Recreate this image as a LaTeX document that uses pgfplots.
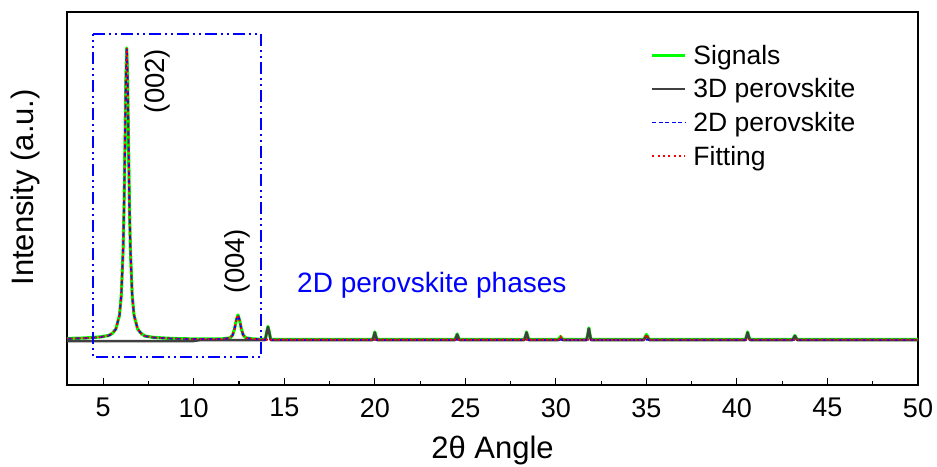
\documentclass[border=0pt]{standalone}
\usepackage{pgfplots}
\pgfplotsset{compat=1.18}
\usepackage{pgfplotstable}
\usepackage{fontspec}
\setmainfont{Liberation Sans}
\definecolor{sgreen}{RGB}{0,255,0}
\definecolor{dgray}{RGB}{64,64,64}
\definecolor{pblue}{RGB}{0,0,255}
\definecolor{pred}{RGB}{255,0,0}

\pgfplotstableread{
x     sig   dthree  dtwo  fit
3.00  2.5   0     2.3   2.4
4.00  3.0   0     2.8   2.9
4.80  4.0   0     3.8   3.9
5.30  5.5   0     5.4   5.5
5.50  7.5   0     7.4   7.5
5.70  12    0     12    12
5.90  26    0     26    26
6.00  46    0     46    46
6.10  92    0     92    92
6.15  134   0     134   134
6.20  194   0     194   194
6.25  261   0     261   261
6.30  293   0     293   293
6.35  261   0     261   261
6.40  194   0     194   194
6.45  134   0     134   134
6.50  92    0     92    92
6.60  46    0     46    46
6.70  26    0     26    26
6.90  12    0     12    12
7.10  7.5   0     7.4   7.5
7.30  5.0   0     4.9   5.0
7.80  3.5   0     3.4   3.5
8.80  2.5   0     2.4   2.5
10.00 2.0   0     2.0   2.0
10.40 2.0   1.0   2.0   2.0
11.50 2.0   1.0   2.0   2.0
12.00 3.0   1.0   3.0   3.0
12.15 6     1.0   6     6
12.25 12    1.0   12    12
12.35 21    1.0   21    21
12.44 26    1.0   26    26
12.53 21    1.0   21    21
12.63 12    1.0   12    12
12.73 6     1.0   6     6
12.90 3     1.0   3     3
13.30 2     1.0   2     2
13.95 1.6   1.0   1.3   1.4
14.03 9     8.5   1.3   1.4
14.10 14.5  14    1.3   1.4
14.17 9     8.5   1.3   1.4
14.25 1.6   1.0   1.3   1.4
19.88 1.6   1.0   1.3   1.4
19.95 5.5   5.0   1.3   1.4
20.00 9     8.5   1.3   1.4
20.05 5.5   5.0   1.3   1.4
20.12 1.6   1.0   1.3   1.4
24.43 1.6   1.0   1.3   1.4
24.50 4.5   4.0   1.3   1.4
24.55 7     6.5   1.3   1.4
24.60 4.5   4.0   1.3   1.4
24.67 1.6   1.0   1.3   1.4
28.26 1.6   1.0   1.3   1.4
28.33 5.5   5.0   1.3   1.4
28.38 9     8.5   1.3   1.4
28.43 5.5   5.0   1.3   1.4
28.50 1.6   1.0   1.3   1.4
30.14 1.6   1.0   1.3   1.4
30.21 3.2   2.0   1.3   3.0
30.26 4.5   2.5   1.3   4.3
30.31 3.2   2.0   1.3   3.0
30.38 1.6   1.0   1.3   1.4
31.70 1.6   1.0   1.3   1.4
31.77 7.5   7.0   1.3   1.4
31.82 13    12.5  1.3   1.4
31.87 7.5   7.0   1.3   1.4
31.94 1.6   1.0   1.3   1.4
34.86 1.6   1.0   1.3   1.4
34.94 4.5   3.5   1.3   4.2
35.00 6.5   5.0   1.3   6.2
35.07 4.5   3.5   1.3   4.2
35.15 1.6   1.0   1.3   1.4
40.47 1.6   1.0   1.3   1.4
40.54 5.5   5.0   1.3   1.4
40.59 9     8.5   1.3   1.4
40.64 5.5   5.0   1.3   1.4
40.71 1.6   1.0   1.3   1.4
43.08 1.6   1.0   1.3   1.4
43.15 3.8   3.5   1.3   1.4
43.20 5.5   5.0   1.3   1.4
43.25 3.8   3.5   1.3   1.4
43.32 1.6   1.0   1.3   1.4
50.00 1.6   1.0   1.3   1.4
}\xrd

\begin{document}
\begin{tikzpicture}
\useasboundingbox (-67pt,-81pt) rectangle (870pt,385pt);
\begin{axis}[
  scale only axis,
  width=851pt, height=373pt,
  xmin=3, xmax=50,
  ymin=-44, ymax=329,
  xtick={5,10,...,50},
  minor x tick num=1,
  ytick=\empty,
  tick align=inside,
  xtick pos=bottom,
  major tick length=7pt,
  minor tick length=4pt,
  every tick/.style={black, line width=1.1pt},
  axis line style={black, line width=1.3pt},
  /pgf/number format/assume math mode=true,
  xticklabel style={font=\fontsize{27}{32}\selectfont, inner sep=0pt, anchor=north, yshift=-13pt},
  xlabel={2θ Angle},
  ylabel={Intensity (a.u.)},
  label style={font=\fontsize{31}{36}\selectfont},
  xlabel style={at={(axis description cs:0.5,-0.175)}, anchor=center},
  ylabel style={at={(axis description cs:-0.049,0.53)}, anchor=center},
  legend style={draw=none, fill=none, at={(0.686,0.93)}, anchor=north west,
    inner sep=0pt, font=\fontsize{26.5}{30}\selectfont, nodes={inner sep=6.5pt}},
  legend cell align=left,
  legend image code/.code={\draw[#1] (0pt,0pt) -- (33pt,0pt);},
]
\addlegendimage{color=sgreen, line width=3pt}
\addlegendentry{Signals}
\addlegendimage{color=dgray, line width=2.2pt}
\addlegendentry{3D perovskite}
\addlegendimage{color=pblue, line width=1.6pt, dash pattern=on 4pt off 2.5pt}
\addlegendentry{2D perovskite}
\addlegendimage{color=pred, line width=2pt, dash pattern=on 2pt off 3.3pt}
\addlegendentry{Fitting}
\addplot[color=sgreen, line width=3.2pt, line join=round, forget plot] table[x=x, y=sig] {\xrd};
\addplot[color=dgray, line width=2.5pt, line join=round, forget plot] table[x=x, y=dthree] {\xrd};
\addplot[color=pblue, line width=1.9pt, dash pattern=on 5pt off 3pt, forget plot] table[x=x, y=dtwo] {\xrd};
\addplot[color=pred, line width=1.8pt, dash pattern=on 1.8pt off 2.2pt, forget plot] table[x=x, y=fit] {\xrd};
\addplot[color=pblue, line width=1.8pt, forget plot, dash pattern=on 12pt off 4pt on 2pt off 4pt on 2pt off 4pt]
  coordinates {(4.44,307) (13.71,307) (13.71,-16) (4.44,-16) (4.44,307)};
\node[rotate=90, font=\fontsize{27.5}{32}\selectfont] at (axis cs:7.97,260) {(002)};
\node[rotate=90, font=\fontsize{27.5}{32}\selectfont] at (axis cs:12.39,80) {(004)};
\node[color=pblue, font=\fontsize{28}{33}\selectfont] at (axis cs:23.15,56) {2D perovskite phases};
\end{axis}
\end{tikzpicture}
\end{document}
